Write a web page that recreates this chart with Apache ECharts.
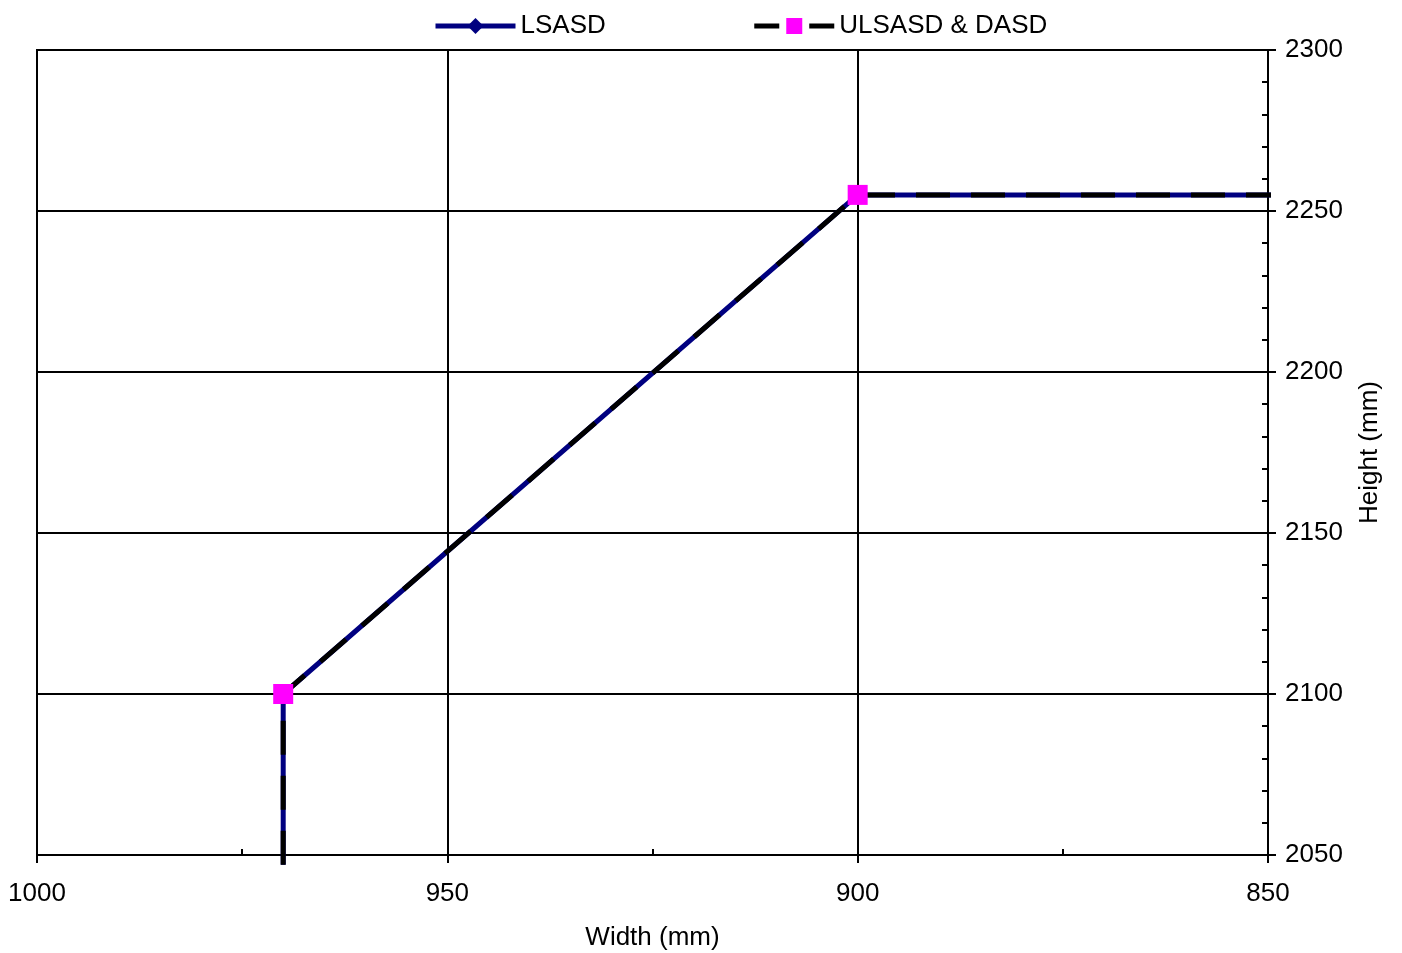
<!DOCTYPE html>
<html><head><meta charset="utf-8">
<script src="https://cdn.jsdelivr.net/npm/echarts@6/dist/echarts.min.js"></script>
<style>html,body{margin:0;padding:0;background:#fff}#c{width:1402px;height:953px}</style>
</head><body><div id="c"></div>
<script>
const seriesNames = ['LSASD', 'ULSASD & DASD'];
const widths = [970, 970, 900, 849];
const heightsLSASD = [2047, 2100, 2255, 2255];
const heightsULSASD = [2047, 2100, 2255, 2255];
const markerIdx = [1, 2];
const xTicks = [1000, 950, 900, 850];
const yTicks = [2050, 2100, 2150, 2200, 2250, 2300];

const font = 'Liberation Sans, Arial, sans-serif';
const fs = 26;
function pts(ys){ return widths.map((w,i)=>({value:[w, ys[i]], symbolSize: markerIdx.includes(i)?undefined:0})); }

const chart = echarts.init(document.getElementById('c'), null, {renderer:'canvas'});
const axisCommon = { min: 850, max: 1000, interval: 50, inverse: true };
chart.setOption({
  animation:false,
  legend:{
    top: 13, left: 433, padding: 0, itemGap: 146, itemWidth: 80, itemHeight: 20,
    textStyle:{fontFamily:font, fontSize:fs, color:'#000', padding:[0,0,0,0]},
    data: [
      {name: seriesNames[0], lineStyle:{width:5, color:'#000080'}, itemStyle:{color:'#000080'}},
      {name: seriesNames[1], lineStyle:{width:5, color:'#000', type:[25,30]}, itemStyle:{color:'#FF00FF'}}
    ]
  },
  grid:{left:37, right:134, top:50, bottom:98, show:true, borderColor:'#000', borderWidth:2, backgroundColor:'#fff', containLabel:false, outerBoundsMode:'none'},
  xAxis:[{
    type:'value', ...axisCommon, position:'bottom',
    axisLine:{show:true, lineStyle:{color:'#000', width:2}},
    axisTick:{show:true, inside:true, length:8, lineStyle:{color:'#000', width:2}},
    minorTick:{show:true, splitNumber:2, length:6, lineStyle:{color:'#000', width:2}},
    splitLine:{show:true, lineStyle:{color:'#000', width:2}},
    axisLabel:{fontFamily:font, fontSize:fs, color:'#000', margin:26, formatter: v => xTicks.includes(v)? String(v):''},
    name:'Width (mm)', nameLocation:'middle', nameGap:70,
    nameTextStyle:{fontFamily:font, fontSize:fs, color:'#000'}
  },{
    type:'value', ...axisCommon, position:'bottom', gridIndex:0,
    axisLine:{show:false},
    axisTick:{show:true, inside:false, length:8, lineStyle:{color:'#000', width:2}},
    splitLine:{show:false}, axisLabel:{show:false}
  }],
  yAxis:[{
    type:'value', min:2050, max:2300, interval:50, position:'right',
    axisLine:{show:true, lineStyle:{color:'#000', width:2}},
    axisTick:{show:true, inside:true, length:8, lineStyle:{color:'#000', width:2}},
    minorTick:{show:true, splitNumber:5, length:6, lineStyle:{color:'#000', width:2}},
    splitLine:{show:true, lineStyle:{color:'#000', width:2}},
    axisLabel:{fontFamily:font, fontSize:fs, color:'#000', margin:17, formatter: v => yTicks.includes(v)? String(v):''},
    name:'Height (mm)', nameLocation:'middle', nameGap:89, nameRotate:90,
    nameTextStyle:{fontFamily:font, fontSize:fs, color:'#000'}
  },{
    type:'value', min:2050, max:2300, interval:50, position:'right',
    axisLine:{show:false},
    axisTick:{show:true, inside:false, length:8, lineStyle:{color:'#000', width:2}},
    splitLine:{show:false}, axisLabel:{show:false}
  }],
  series:[{
    name: seriesNames[0], type:'line', clip:false,
    data: pts(heightsLSASD),
    symbol:'diamond', symbolSize:14,
    itemStyle:{color:'#000080'},
    lineStyle:{color:'#000080', width:5},
    z:2
  },{
    name: seriesNames[1], type:'line', clip:false,
    data: pts(heightsULSASD),
    symbol:'rect', symbolSize:20,
    itemStyle:{color:'#FF00FF', borderWidth:0},
    lineStyle:{color:'#000', width:5, type:[34,21]},
    z:3
  }]
});
</script></body></html>
